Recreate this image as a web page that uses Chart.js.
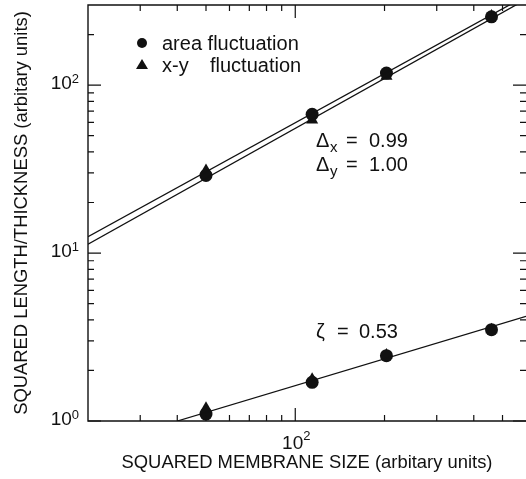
<!DOCTYPE html>
<html><head><meta charset="utf-8">
<script src="https://cdn.jsdelivr.net/npm/chart.js@4"></script>
<style>html,body{margin:0;padding:0;background:#fff;}</style>
</head><body>
<canvas id="c" width="526" height="479"></canvas>
<script>
// ---- data ----
const sizes = [50, 114, 203, 459];
const areaUpper = [29, 67, 118, 255];
const xyUpper = [31, 62, 113, 258];
const areaLower = [1.10, 1.70, 2.45, 3.50];
const xyLower = [1.19, 1.77, 2.47, 3.50];
const fitX = [20, 600];
const fitDx = [12.5, 340];
const fitDy = [11.3, 324];
const zetaX = [40, 600];
const zetaY = [1.0, 4.2];
const xMajor = [100];
const xMinor = [30, 40, 50, 60, 70, 80, 90, 200, 300, 400, 500];
const yMajor = [1, 10, 100];
const yMinor = [2, 3, 4, 5, 6, 7, 8, 9, 20, 30, 40, 50, 60, 70, 80, 90, 200];
const xTickLabels = [{v: 100, base: '10', exp: '2'}];
const yTickLabels = [{v: 1, base: '10', exp: '0'}, {v: 10, base: '10', exp: '1'}, {v: 100, base: '10', exp: '2'}];
const xTitle = 'SQUARED MEMBRANE SIZE (arbitary units)';
const yTitle = 'SQUARED LENGTH/THICKNESS (arbitary units)';
const seriesNames = ['area fluctuation', 'x-y fluctuation'];

const FONT = '"Liberation Sans", Arial, sans-serif';
const INK = '#111';

function pts(xs, ys) { return xs.map((x, i) => ({x: x, y: ys[i]})); }

const deco = {
  id: 'deco',
  afterDraw(chart) {
    const ctx = chart.ctx;
    const a = chart.chartArea;
    const xs = chart.scales.x, ys = chart.scales.y;
    ctx.save();
    ctx.strokeStyle = INK;
    ctx.fillStyle = INK;
    ctx.lineWidth = 1.4;
    // frame (right edge falls outside the picture in the original)
    ctx.beginPath();
    ctx.moveTo(chart.width, a.top); ctx.lineTo(a.left, a.top);
    ctx.lineTo(a.left, a.bottom); ctx.lineTo(chart.width, a.bottom);
    ctx.stroke();
    // ticks (inward, all four sides)
    ctx.lineWidth = 1.2;
    ctx.beginPath();
    const xt = (v, len) => {
      const p = xs.getPixelForValue(v);
      ctx.moveTo(p, a.bottom); ctx.lineTo(p, a.bottom - len);
      ctx.moveTo(p, a.top); ctx.lineTo(p, a.top + len);
    };
    const yt = (v, len) => {
      const p = ys.getPixelForValue(v);
      ctx.moveTo(a.left, p); ctx.lineTo(a.left + len, p);
      ctx.moveTo(chart.width, p); ctx.lineTo(chart.width - len, p);
    };
    xMajor.forEach(v => xt(v, 13));
    xMinor.forEach(v => xt(v, 6));
    yMajor.forEach(v => yt(v, 13));
    yMinor.forEach(v => yt(v, 6));
    ctx.stroke();

    // tick labels
    ctx.textBaseline = 'alphabetic';
    const bigF = '19px ' + FONT, smallF = '13px ' + FONT;
    yTickLabels.forEach(t => {
      const p = ys.getPixelForValue(t.v);
      ctx.font = smallF;
      const ew = ctx.measureText(t.exp).width;
      ctx.textAlign = 'right';
      ctx.fillText(t.exp, 79, p - 2);
      ctx.font = bigF;
      ctx.fillText(t.base, 79 - ew, p + 4);
    });
    xTickLabels.forEach(t => {
      const p = xs.getPixelForValue(t.v);
      ctx.font = bigF;
      const bw = ctx.measureText(t.base).width;
      ctx.font = smallF;
      const ew = ctx.measureText(t.exp).width;
      const x0 = p - (bw + ew) / 2 + 1;
      ctx.textAlign = 'left';
      ctx.font = bigF;
      ctx.fillText(t.base, x0, a.bottom + 28);
      ctx.font = smallF;
      ctx.fillText(t.exp, x0 + bw, a.bottom + 19);
    });

    // legend
    ctx.beginPath();
    ctx.arc(142, 43, 5, 0, Math.PI * 2);
    ctx.fill();
    ctx.beginPath();
    ctx.moveTo(142, 59); ctx.lineTo(148, 69); ctx.lineTo(136, 69); ctx.closePath();
    ctx.fill();
    ctx.font = '20px ' + FONT;
    ctx.textAlign = 'left';
    ctx.fillText(seriesNames[0], 162, 50);
    const parts = seriesNames[1].split(' ');
    ctx.fillText(parts[0], 162, 72);
    ctx.fillText(parts[1], 210, 72);

    // exponent annotations
    const sub = (main, s, val, y) => {
      ctx.font = '20px ' + FONT;
      ctx.fillText(main, 316, y);
      ctx.font = '15px ' + FONT;
      ctx.fillText(s, 330, y + 5);
      ctx.font = '20px ' + FONT;
      ctx.fillText('=', 346, y);
      ctx.fillText(val, 369, y);
    };
    sub('\u0394', 'x', '0.99', 147);
    sub('\u0394', 'y', '1.00', 171);
    ctx.font = '20px ' + FONT;
    ctx.fillText('\u03B6', 316, 338);
    ctx.fillText('=', 337, 338);
    ctx.fillText('0.53', 359, 338);
    ctx.restore();
  }
};

const lineDs = (label, xsArr, ysArr) => ({
  label: label, data: pts(xsArr, ysArr), showLine: true, borderColor: INK,
  borderWidth: 1.3, pointRadius: 0, fill: false, tension: 0
});
const markDs = (label, ysArr, style, r) => ({
  label: label, data: pts(sizes, ysArr), showLine: false, pointStyle: style,
  pointRadius: r, backgroundColor: INK, borderColor: INK, borderWidth: 0
});

new Chart(document.getElementById('c'), {
  type: 'scatter',
  data: {
    datasets: [
      lineDs('fit Δx', fitX, fitDx),
      lineDs('fit Δy', fitX, fitDy),
      lineDs('fit ζ', zetaX, zetaY),
      markDs(seriesNames[0], areaUpper, 'circle', 6.5),
      markDs(seriesNames[1], xyUpper, 'triangle', 7),
      markDs(seriesNames[0] + ' (ζ)', areaLower, 'circle', 6.5),
      markDs(seriesNames[1] + ' (ζ)', xyLower, 'triangle', 7)
    ]
  },
  options: {
    responsive: false,
    animation: false,
    layout: {autoPadding: false, padding: {top: 5, right: 0, left: 0, bottom: 0}},
    plugins: {legend: {display: false}, tooltip: {enabled: false}},
    scales: {
      x: {
        type: 'logarithmic', min: 20, max: 600,
        grid: {display: false, drawTicks: false}, border: {display: false},
        ticks: {display: false},
        title: {display: true, text: xTitle, color: INK,
                font: {family: FONT, size: 18.4}, padding: {top: 0, bottom: 5}},
        afterFit(s) { s.height = 58; }
      },
      y: {
        type: 'logarithmic', min: 1, max: 300,
        grid: {display: false, drawTicks: false}, border: {display: false},
        ticks: {display: false},
        title: {display: true, text: yTitle, color: INK,
                font: {family: FONT, size: 18.4}, padding: {top: 11, bottom: 0}},
        afterFit(s) { s.width = 88; }
      }
    }
  },
  plugins: [deco]
});
</script>
</body></html>
